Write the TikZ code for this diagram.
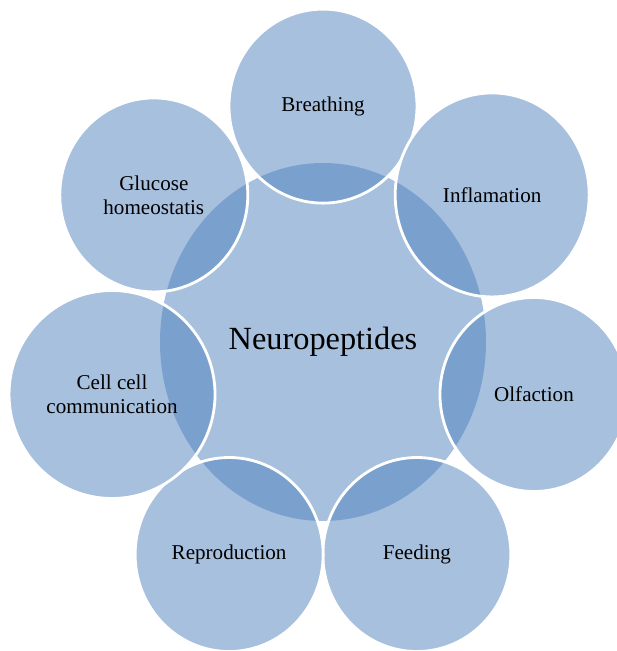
\documentclass[tikz,border=0pt]{standalone}
\usepackage{fontspec}
\setmainfont{Liberation Serif}
\usepackage{xcolor}
\usepackage{tikz}
\usetikzlibrary{shapes.geometric}

\definecolor{accent}{RGB}{79,129,189}

\tikzset{
  blob/.style={ellipse, inner sep=0pt, fill=accent, fill opacity=0.5, text opacity=1, align=center},
  hubblob/.style={blob, minimum width=8.15cm, minimum height=8.95cm, font=\fontsize{23}{26}\selectfont},
  petal/.style={blob, draw=white, draw opacity=1, line width=2pt, minimum width=4.7cm, minimum height=4.85cm, font=\fontsize{15}{17}\selectfont}
}

\begin{document}
\begin{tikzpicture}[x=1cm, y=1.09cm]
    \useasboundingbox (-8.075cm,-7.725cm) rectangle (7.325cm,8.55cm);

    % Hub
    \node[hubblob] (hub) at (0,0) {Neuropeptides};

    % Petals around the hub
    \node[petal] (breathing) at (90:5.41)      {Breathing};
    \node[petal, minimum width=4.85cm, minimum height=5.1cm] (inflam) at (38.57:5.41) {Inflamation};
    \node[petal] (olfaction) at (-12.86:5.41)  {Olfaction};
    \node[petal] (feeding)   at (-64.29:5.41)  {Feeding};
    \node[petal] (repro)     at (-115.71:5.41) {Reproduction};
    \node[petal, minimum width=5.15cm, minimum height=5.2cm] (cellcomm) at (-167.14:5.41) {Cell cell\\communication};
    \node[petal] (glucose)   at (141.43:5.41)  {Glucose\\homeostatis};
\end{tikzpicture}
\end{document}
